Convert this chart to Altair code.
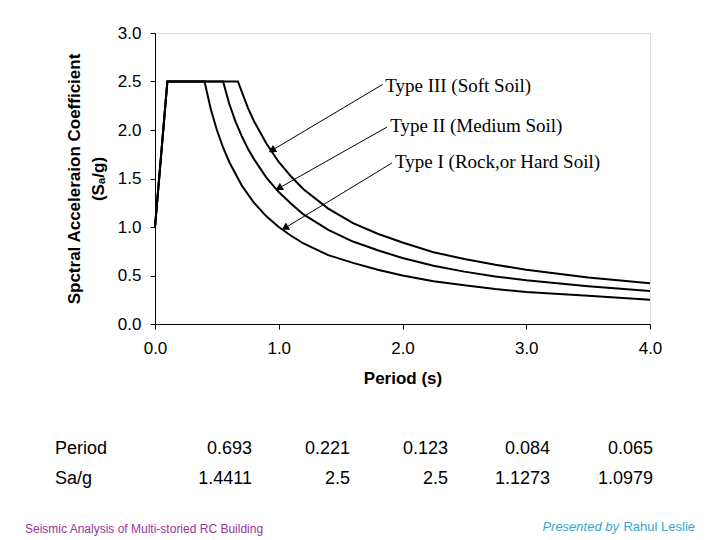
import altair as alt
import pandas as pd
import numpy as np

# ---- data ----
rock_T = [0.0, 0.1, 0.4, 0.45, 0.5, 0.55, 0.6, 0.7, 0.8, 0.9, 1.0, 1.1, 1.2, 1.4, 1.6, 1.8, 2.0, 2.25, 2.5, 2.75, 3.0, 3.5, 4.0]
rock_S = [1.0, 2.5, 2.5, 2.22, 2.0, 1.82, 1.67, 1.43, 1.25, 1.11, 1.0, 0.91, 0.83, 0.71, 0.63, 0.56, 0.5, 0.44, 0.4, 0.36, 0.33, 0.29, 0.25]
med_T = [0.0, 0.1, 0.55, 0.6, 0.65, 0.7, 0.75, 0.8, 0.9, 1.0, 1.1, 1.2, 1.4, 1.6, 1.8, 2.0, 2.25, 2.5, 2.75, 3.0, 3.5, 4.0]
med_S = [1.0, 2.5, 2.5, 2.27, 2.09, 1.94, 1.81, 1.70, 1.51, 1.36, 1.24, 1.13, 0.97, 0.85, 0.76, 0.68, 0.60, 0.54, 0.49, 0.45, 0.39, 0.34]
soft_T = [0.0, 0.1, 0.67, 0.75, 0.8, 0.9, 1.0, 1.1, 1.2, 1.4, 1.6, 1.8, 2.0, 2.25, 2.5, 2.75, 3.0, 3.5, 4.0]
soft_S = [1.0, 2.5, 2.5, 2.23, 2.09, 1.86, 1.67, 1.52, 1.39, 1.19, 1.04, 0.93, 0.84, 0.74, 0.67, 0.61, 0.56, 0.48, 0.42]

ann_labels = ["Type III (Soft Soil)", "Type II (Medium Soil)", "Type I (Rock,or Hard Soil)"]
ann_text_x = [1.86, 1.90, 1.94]
ann_text_y = [2.45, 2.04, 1.67]
ann_tail_x = [1.84, 1.875, 1.915]
ann_tail_y = [2.47, 2.03, 1.66]
ann_head_x = [0.945, 1.00, 1.05]
ann_head_y = [1.79, 1.40, 0.99]

table_row1 = ["Period", "0.693", "0.221", "0.123", "0.084", "0.065"]
table_row2 = ["Sa/g", "1.4411", "2.5", "2.5", "1.1273", "1.0979"]
footer_left = "Seismic Analysis of Multi-storied RC Building"
footer_right_a = "Presented by"
footer_right_b = "Rahul Leslie"

# ---- layout ----
W, H = 495, 291
PX = W / 4.0
PY = H / 3.0

curves = pd.concat([
    pd.DataFrame({"T": rock_T, "S": rock_S, "soil": "I"}),
    pd.DataFrame({"T": med_T, "S": med_S, "soil": "II"}),
    pd.DataFrame({"T": soft_T, "S": soft_S, "soil": "III"}),
])

ann = pd.DataFrame({
    "label": ann_labels, "tx": ann_text_x, "ty": ann_text_y,
    "x1": ann_tail_x, "y1": ann_tail_y, "x2": ann_head_x, "y2": ann_head_y,
})
dxp = (ann["x2"] - ann["x1"]) * PX
dyp = -(ann["y2"] - ann["y1"]) * PY
ann["angle"] = (np.degrees(np.arctan2(dxp, -dyp)) + 360) % 360

xs = alt.X("T:Q", scale=alt.Scale(domain=[0, 4], nice=False),
           axis=alt.Axis(values=[0, 1, 2, 3, 4], format=".1f", title="Period (s)",
                         grid=False, domainColor="black", tickColor="black", tickSize=5,
                         labelFont="Liberation Sans", labelFontSize=17, labelColor="black",
                         labelPadding=11, labelFlush=False, titleFont="Liberation Sans",
                         titleFontSize=17, titleFontWeight="bold", titleColor="black",
                         titlePadding=14))
ys = alt.Y("S:Q", scale=alt.Scale(domain=[0, 3], nice=False),
           axis=alt.Axis(values=[0, 0.5, 1, 1.5, 2, 2.5, 3], format=".1f",
                         title=["Spctral Acceleraion Coefficient", "(Sₐ/g)"],
                         grid=False, domainColor="black", tickColor="black", tickSize=5,
                         labelFont="Liberation Sans", labelFontSize=17, labelColor="black",
                         labelPadding=9, labelFlush=False, titleFont="Liberation Sans",
                         titleFontSize=17, titleFontWeight="bold", titleColor="black",
                         titlePadding=10, titleLineHeight=24))

lines = alt.Chart(curves).mark_line(color="black", strokeWidth=2, interpolate="linear").encode(
    x=xs, y=ys, detail="soil:N")

base_ann = alt.Chart(ann)
arrows = base_ann.mark_rule(color="black", strokeWidth=1).encode(
    x=alt.X("x1:Q"), y=alt.Y("y1:Q"), x2="x2:Q", y2="y2:Q")
heads = base_ann.mark_point(shape="triangle-up", filled=True, color="black", size=70, opacity=1).encode(
    x="x2:Q", y="y2:Q", angle=alt.Angle("angle:Q", scale=None))
labels = base_ann.mark_text(align="left", baseline="middle", font="Liberation Serif",
                            fontSize=19, color="black").encode(
    x="tx:Q", y="ty:Q", text="label:N")

# table below the plot (pixel positions relative to the plot area)
col_x = [55 - 155, 252 - 155, 350 - 155, 448 - 155, 550 - 155, 653 - 155]
col_align = ["left", "right", "right", "right", "right", "right"]
tbl_layers = []
for i in range(6):
    for row, yy in ((table_row1, 449 - 33), (table_row2, 479 - 33)):
        tbl_layers.append(
            alt.Chart(pd.DataFrame({"t": [row[i]]})).mark_text(
                align=col_align[i], baseline="middle", font="Liberation Sans",
                fontSize=18, color="black").encode(
                x=alt.value(col_x[i]), y=alt.value(yy), text="t:N"))

foot1 = alt.Chart(pd.DataFrame({"t": [footer_left]})).mark_text(
    align="left", baseline="middle", font="Liberation Sans", fontSize=12,
    color="#993399").encode(x=alt.value(25 - 155), y=alt.value(529 - 33), text="t:N")
foot2 = alt.Chart(pd.DataFrame({"t": [footer_right_b]})).mark_text(
    align="right", baseline="middle", font="Liberation Sans", fontSize=13,
    color="#33AACC").encode(x=alt.value(695 - 155), y=alt.value(527 - 33), text="t:N")
foot3 = alt.Chart(pd.DataFrame({"t": [footer_right_a]})).mark_text(
    align="right", baseline="middle", font="Liberation Sans", fontSize=13,
    fontStyle="italic", color="#33AACC").encode(x=alt.value(619 - 155), y=alt.value(527 - 33), text="t:N")

chart = alt.layer(lines, arrows, heads, labels, *tbl_layers, foot1, foot2, foot3).properties(
    width=W, height=H,
    autosize=alt.AutoSizeParams(type="none"),
    padding={"left": 147, "top": 25, "right": 62, "bottom": 216},
).configure_view(stroke="black", strokeWidth=1).configure(background="white")

chart.save("out.html", embed_options={"renderer": "svg", "actions": False})
